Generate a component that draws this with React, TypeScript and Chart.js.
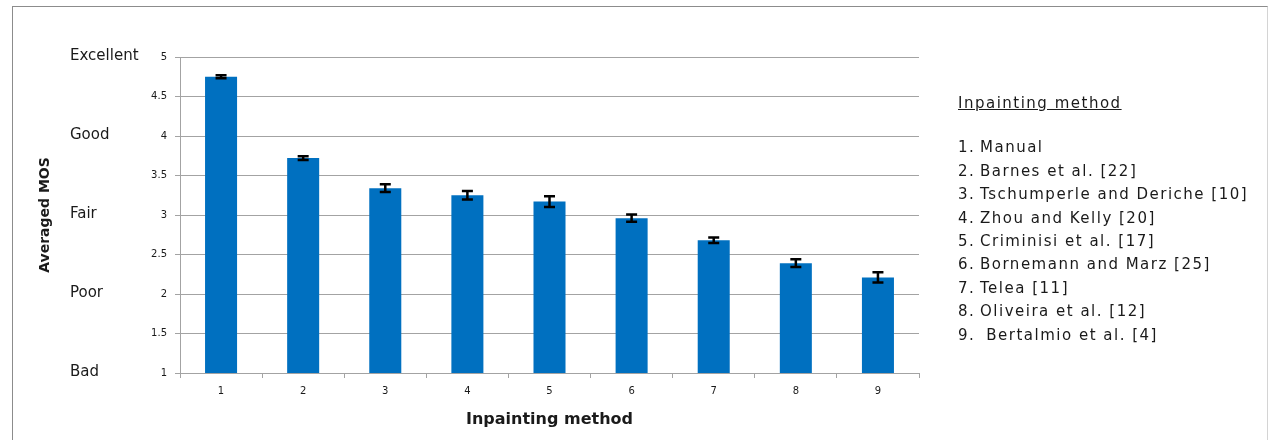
import React, { useEffect, useRef } from 'react';
import { Chart, registerables } from 'chart.js';

Chart.register(...registerables);

const categories = ['1', '2', '3', '4', '5', '6', '7', '8', '9'];
const meanMOS = [4.75, 3.72, 3.34, 3.25, 3.17, 2.96, 2.68, 2.39, 2.21];
const errMOS = [0.02, 0.025, 0.05, 0.055, 0.068, 0.047, 0.036, 0.049, 0.065];
const ratingValues = [5, 4, 3, 2, 1];
const ratingLabels = ['Excellent', 'Good', 'Fair', 'Poor', 'Bad'];
const yAxisTitle = 'Averaged MOS';
const xAxisTitle = 'Inpainting method';
const legendTitle = 'Inpainting method';
const methodNames = [
  'Manual',
  'Barnes et al. [22]',
  'Tschumperle and Deriche [10]',
  'Zhou and Kelly [20]',
  'Criminisi et al. [17]',
  'Bornemann and Marz [25]',
  'Telea [11]',
  'Oliveira et al. [12]',
  '\u00a0Bertalmio et al. [4]',
];

const BAR_COLOR = '#0070C0';
const GRID_COLOR = '#a3a3a3';
const TEXT_COLOR = '#1a1a1a';

const errorBarPlugin = {
  id: 'errorBars',
  afterDatasetsDraw(chart: any) {
    const meta = chart.getDatasetMeta(0);
    const y = chart.scales.y;
    const ctx = chart.ctx;
    ctx.save();
    ctx.strokeStyle = '#000';
    ctx.lineWidth = 2.5;
    meta.data.forEach((bar: any, i: number) => {
      const x = bar.x;
      const hi = y.getPixelForValue(meanMOS[i] + errMOS[i]);
      const lo = y.getPixelForValue(meanMOS[i] - errMOS[i]);
      ctx.beginPath();
      ctx.moveTo(x, hi);
      ctx.lineTo(x, lo);
      ctx.moveTo(x - 5.5, hi);
      ctx.lineTo(x + 5.5, hi);
      ctx.moveTo(x - 5.5, lo);
      ctx.lineTo(x + 5.5, lo);
      ctx.stroke();
    });
    ctx.restore();
  },
};

const ratingPlugin = {
  id: 'ratingLabels',
  afterDraw(chart: any) {
    const y = chart.scales.y;
    const ctx = chart.ctx;
    ctx.save();
    ctx.fillStyle = TEXT_COLOR;
    ctx.font = '15px "DejaVu Sans"';
    ctx.textAlign = 'left';
    ctx.textBaseline = 'middle';
    ratingValues.forEach((v, i) => {
      ctx.fillText(ratingLabels[i], 70, y.getPixelForValue(v) - 1);
    });
    ctx.restore();
  },
};

export default function App() {
  const canvasRef = useRef<HTMLCanvasElement | null>(null);

  useEffect(() => {
    document.body.style.margin = '0';
    const canvas = canvasRef.current;
    if (!canvas) return;
    const chart = new Chart(canvas, {
      type: 'bar',
      data: {
        labels: categories,
        datasets: [
          {
            data: meanMOS,
            backgroundColor: BAR_COLOR,
            borderWidth: 0,
            barPercentage: 0.39,
            categoryPercentage: 1,
          },
        ],
      },
      options: {
        animation: false,
        responsive: false,
        events: [],
        layout: { padding: { left: 0, right: 349, top: 57, bottom: 0 } },
        plugins: {
          legend: { display: false },
          tooltip: { enabled: false },
          title: { display: false },
        },
        scales: {
          x: {
            offset: true,
            grid: {
              offset: true,
              drawOnChartArea: false,
              drawTicks: true,
              tickLength: 5,
              color: GRID_COLOR,
            },
            border: { display: true, color: GRID_COLOR },
            ticks: {
              color: TEXT_COLOR,
              font: { family: 'DejaVu Sans', size: 10 },
              padding: 7,
              maxRotation: 0,
            },
            title: {
              display: true,
              text: xAxisTitle,
              color: TEXT_COLOR,
              font: { family: 'DejaVu Sans', size: 16, weight: 'bold' },
              padding: { top: 0, bottom: 11 },
            },
            afterFit: (scale: any) => {
              scale.height = 67;
            },
          },
          y: {
            min: 1,
            max: 5,
            ticks: {
              stepSize: 0.5,
              color: TEXT_COLOR,
              font: { family: 'DejaVu Sans', size: 10 },
              padding: 8,
              callback: (v: any) => String(v),
            },
            grid: {
              color: GRID_COLOR,
              drawTicks: true,
              tickLength: 5,
            },
            border: { display: true, color: GRID_COLOR },
            title: {
              display: true,
              text: yAxisTitle,
              color: TEXT_COLOR,
              font: { family: 'DejaVu Sans', size: 14, weight: 'bold' },
              padding: { top: 37, bottom: 0 },
            },
            afterFit: (scale: any) => {
              scale.width = 180;
            },
          },
        },
      },
      plugins: [errorBarPlugin, ratingPlugin],
    } as any);
    return () => chart.destroy();
  }, []);

  const legendFont: React.CSSProperties = {
    fontFamily: '"DejaVu Sans", sans-serif',
    fontSize: 15,
    letterSpacing: '1.5px',
    color: TEXT_COLOR,
    whiteSpace: 'pre',
  };

  return (
    <div style={{ position: 'relative', width: 1268, height: 440, overflow: 'hidden', background: '#fff' }}>
      <div
        style={{
          position: 'absolute',
          left: 12,
          top: 6,
          width: 1254,
          height: 460,
          borderLeft: '1px solid #8c8c8c',
          borderTop: '1px solid #8c8c8c',
          borderRight: '1px solid #d4d4d4',
        }}
      />
      <canvas ref={canvasRef} width={1268} height={440} style={{ position: 'absolute', left: 0, top: 0 }} />
      <div style={{ ...legendFont, position: 'absolute', left: 958, top: 103 - 12, lineHeight: '24px', textDecoration: 'underline' }}>
        {legendTitle}
      </div>
      {methodNames.map((name, i) => (
        <div key={i} style={{ position: 'absolute', left: 0, top: 148 - 11.7 + i * 23.4, height: 23.4, lineHeight: '23.4px' }}>
          <span style={{ ...legendFont, position: 'absolute', left: 958 }}>{`${i + 1}.`}</span>
          <span style={{ ...legendFont, position: 'absolute', left: 980 }}>{name}</span>
        </div>
      ))}
    </div>
  );
}
